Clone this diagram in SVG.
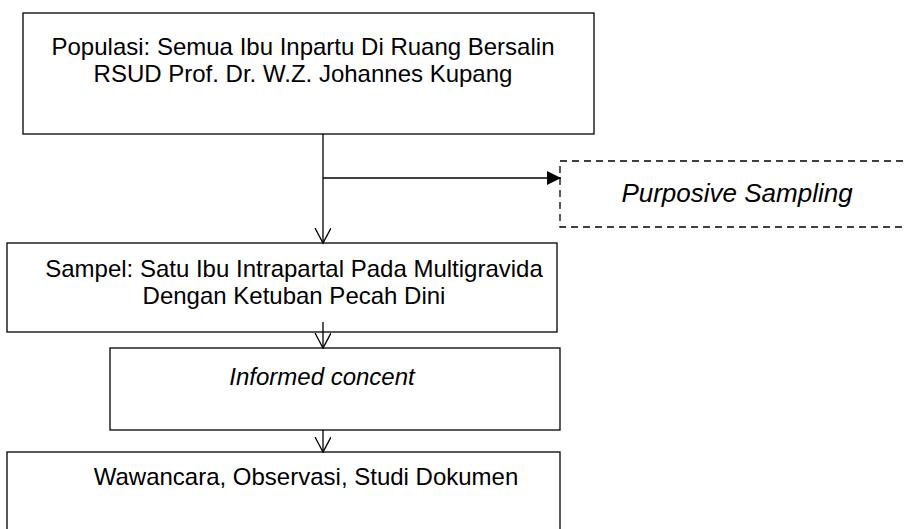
<svg xmlns="http://www.w3.org/2000/svg" width="904" height="529" viewBox="0 0 904 529">
<style>
.box{fill:#fff;stroke:#000;stroke-width:1.3}
.dash{fill:#fff;stroke:#000;stroke-width:1.3;stroke-dasharray:7 5}
.t{font-family:"Liberation Sans",Arial,sans-serif;font-size:24px;fill:#000;text-anchor:middle}
.i{font-style:italic}
.c{stroke:#000;stroke-width:1.3;fill:none}
</style>
<defs>
<marker id="open" markerWidth="18" markerHeight="18" refX="15" refY="8" orient="auto" markerUnits="userSpaceOnUse" viewBox="0 0 18 18">
<path d="M0,0 L15,8 L0,16" fill="none" stroke="#000" stroke-width="1.3"/>
</marker>
<marker id="solid" markerWidth="16" markerHeight="16" refX="14" refY="7" orient="auto" markerUnits="userSpaceOnUse" viewBox="0 0 16 16">
<path d="M0,0 L14,7 L0,14 Z" fill="#000"/>
</marker>
</defs>
<g id="n-populasi">
<rect class="box" x="23" y="13" width="571" height="121"/>
<text class="t" x="303" y="55">Populasi: Semua Ibu Inpartu Di Ruang Bersalin</text>
<text class="t" x="303" y="82">RSUD Prof. Dr. W.Z. Johannes Kupang</text>
</g>
<g id="n-purposive">
<rect class="dash" x="560" y="161" width="360" height="66"/>
<text class="t i" x="737" y="202" style="font-size:26px">Purposive Sampling</text>
</g>
<g id="n-sampel">
<rect class="box" x="7" y="243" width="550" height="89"/>
<text class="t" x="294" y="277">Sampel: Satu Ibu Intrapartal Pada Multigravida</text>
<text class="t" x="294" y="304">Dengan Ketuban Pecah Dini</text>
</g>
<g id="n-informed">
<rect class="box" x="110" y="348" width="450" height="82"/>
<text class="t i" x="322" y="385">Informed concent</text>
</g>
<g id="n-wawancara">
<rect class="box" x="7" y="452" width="553" height="90"/>
<text class="t" x="306" y="485">Wawancara, Observasi, Studi Dokumen</text>
</g>
<g id="connectors">
<path class="c" d="M323,134 V243" marker-end="url(#open)"/>
<path class="c" d="M323,178 H561" marker-end="url(#solid)"/>
<path class="c" d="M323,322 V348" marker-end="url(#open)"/>
<path class="c" d="M323,430 V452" marker-end="url(#open)"/>
</g>
</svg>
